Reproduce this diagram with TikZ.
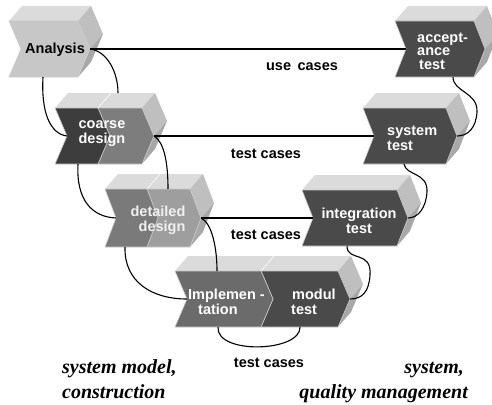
\documentclass[tikz,border=0pt]{standalone}
\usepackage{fontspec}
\setmainfont{Liberation Serif}
\newfontfamily\arialfont{Liberation Sans}

% grey shades of the faces
\definecolor{topface}{gray}{0.86}
\definecolor{sideup}{gray}{0.75}
\definecolor{sidelo}{gray}{0.66}
\definecolor{edgeline}{gray}{0.80}
\definecolor{anafront}{gray}{0.78}
\definecolor{coadark}{gray}{0.24}
\definecolor{coamid}{gray}{0.49}
\definecolor{detone}{gray}{0.48}
\definecolor{dettwo}{gray}{0.62}
\definecolor{impfront}{gray}{0.42}
\definecolor{testfront}{gray}{0.29}

% top face and right side faces of an extruded chevron
% #1 x, #2 y (top left of front), #3 total width, #4 height, #5 point depth
\newcommand{\chevsolid}[5]{%
  \fill[topface] (#1,#2) -- ++(13,-15) -- ++(#3,0) -- ({#1+#3},#2) -- cycle;
  \fill[sideup] ({#1+#3},#2) -- ++(13,-15) -- ++(#5,{#4/2}) -- ({#1+#3+#5},{#2+#4/2}) -- cycle;
  \fill[sidelo] ({#1+#3+#5},{#2+#4/2}) -- ++(13,-15) -- ++({-#5},{#4/2}) -- ({#1+#3},{#2+#4}) -- cycle;
}
% front face of one chevron segment: #1 x, #2 y, #3 width, #4 height, #5 depth, #6 fill
\newcommand{\chevfront}[6]{%
  \filldraw[fill=#6, draw=edgeline, line width=.6pt]
    (#1,#2) -- ({#1+#3},#2) -- ({#1+#3+#5},{#2+#4/2}) -- ({#1+#3},{#2+#4})
    -- (#1,{#2+#4}) -- ({#1+#5},{#2+#4/2}) -- cycle;
}
% divider on the top face between two segments
\newcommand{\topdivide}[2]{%
  \draw[white, line width=.6pt] (#1,#2) -- ++(13,-15);
}

\tikzset{
  stagelabel/.style={font=\arialfont\bfseries\fontsize{14.5}{15}\selectfont, inner sep=0pt},
  casetext/.style={font=\arialfont\bfseries\fontsize{14.5}{15}\selectfont, inner sep=0pt},
  sidetext/.style={font=\bfseries\itshape\fontsize{20}{24}\selectfont, inner sep=0pt},
  link/.style={line width=1.1pt, black}
}

\begin{document}
\begin{tikzpicture}[x=1pt, y=-1pt]
\useasboundingbox (0,0) rectangle (492,404);
\fill[white] (0,0) rectangle (492,404);

% Analysis
\chevsolid{9}{21}{69}{56}{12}
\chevfront{9}{21}{69}{56}{12}{anafront}
% coarse design
\chevsolid{55}{108}{87}{56}{12}
\topdivide{98}{108}
\chevfront{98}{108}{44}{56}{12}{coamid}
\chevfront{55}{108}{43}{56}{12}{coadark}
% detailed design
\chevsolid{105}{189}{85}{58}{11}
\topdivide{147}{189}
\chevfront{147}{189}{43}{58}{11}{dettwo}
\chevfront{105}{189}{42}{58}{11}{detone}
% implementation and modul test
\chevsolid{175}{271}{163}{56}{12}
\topdivide{261}{271}
\chevfront{261}{271}{77}{56}{12}{testfront}
\chevfront{175}{271}{86}{56}{12}{impfront}
% integration test
\chevsolid{302}{190}{95}{56}{11}
\chevfront{302}{190}{95}{56}{11}{testfront}
% system test
\chevsolid{363}{108}{83}{56}{11}
\chevfront{363}{108}{83}{56}{11}{testfront}
% acceptance test
\chevsolid{395}{21}{79}{56}{11}
\chevfront{395}{21}{79}{56}{11}{testfront}

% stage labels
\node[stagelabel] (ana) at (55,50) {Analysis};
\node[stagelabel, white, align=left] (coa) at (102,134) {coarse\\design};
\node[stagelabel, white!94!black, align=right] (det) at (158,220) {detailed\\design};
\node[stagelabel, white, align=left, anchor=west] (imp) at (188,302) {Implemen -\\\hspace*{10pt}tation};
\node[stagelabel, white, align=left, anchor=west] (mod) at (291,302) {\hspace*{1pt}modul\\test};
\node[stagelabel, white, align=center] (int) at (359,221) {integration\\test};
\node[stagelabel, white, align=left, anchor=west] (sys) at (387,138) {system\\test};
\node[stagelabel, white, align=left, anchor=west, font=\arialfont\bfseries\fontsize{14.5}{13.5}\selectfont] (acc) at (417,51) {accept-\\ance\\\hspace*{2pt}test};

% attachment points
\coordinate (anaR) at (90,49);
\coordinate (anaB) at (43,77);
\coordinate (accL) at (406,49);
\coordinate (accB) at (453,77);
\coordinate (coaTop) at (118,93);
\coordinate (coaL) at (67,136);
\coordinate (coaR) at (154,136);
\coordinate (coaB) at (78,164);
\coordinate (sysL) at (374,136);
\coordinate (sysR) at (457,136);
\coordinate (sysB) at (404,164);
\coordinate (detTop) at (168,189);
\coordinate (detL) at (116,218);
\coordinate (detR) at (201,218);
\coordinate (detB) at (125,247);
\coordinate (intL) at (313,218);
\coordinate (intR) at (408,218);
\coordinate (intB) at (347,246);
\coordinate (impTop) at (217,271);
\coordinate (impL) at (187,299);
\coordinate (impB) at (218,327);
\coordinate (modR) at (350,299);
\coordinate (modB) at (300,327);

% connectors
\draw[link] (anaR) -- (accL);
\draw[link] (anaR) .. controls (107,51) and (118,72) .. (coaTop);
\draw[link] (anaB) .. controls (41,112) and (50,134) .. (coaL);
\draw[link] (coaR) -- (sysL);
\draw[link] (coaR) .. controls (164,142) and (168,162) .. (detTop);
\draw[link] (coaB) .. controls (76,200) and (92,217) .. (detL);
\draw[link] (detR) -- (intL);
\draw[link] (detR) .. controls (212,223) and (217,248) .. (impTop);
\draw[link] (detB) .. controls (124,282) and (152,299) .. (impL);
\draw[link] (impB) .. controls (216,355) and (301,352) .. (modB);
\draw[link] (intB) .. controls (347,262) and (372,250) .. (370,275) .. controls (369,292) and (362,299) .. (modR);
\draw[link] (sysB) .. controls (406,176) and (428,172) .. (427,192) .. controls (426,208) and (418,218) .. (intR);
\draw[link] (accB) .. controls (453,92) and (478,92) .. (477,112) .. controls (476,128) and (468,136) .. (sysR);

% connector labels
\node[casetext] (usecases) at (302,67) {use\hspace{0.45em}cases};
\node[casetext] (tc1) at (266,154) {test cases};
\node[casetext] (tc2) at (266,235) {test cases};
\node[casetext] (tc3) at (269,363) {test cases};

% side captions
\node[sidetext, anchor=base west] (lefta) at (62,373) {system model,};
\node[sidetext, anchor=base west] (leftb) at (62,398) {construction};
\node[sidetext, anchor=base east] (righta) at (464,373) {system,};
\node[sidetext, anchor=base east] (rightb) at (468,398) {quality management};
\end{tikzpicture}
\end{document}
